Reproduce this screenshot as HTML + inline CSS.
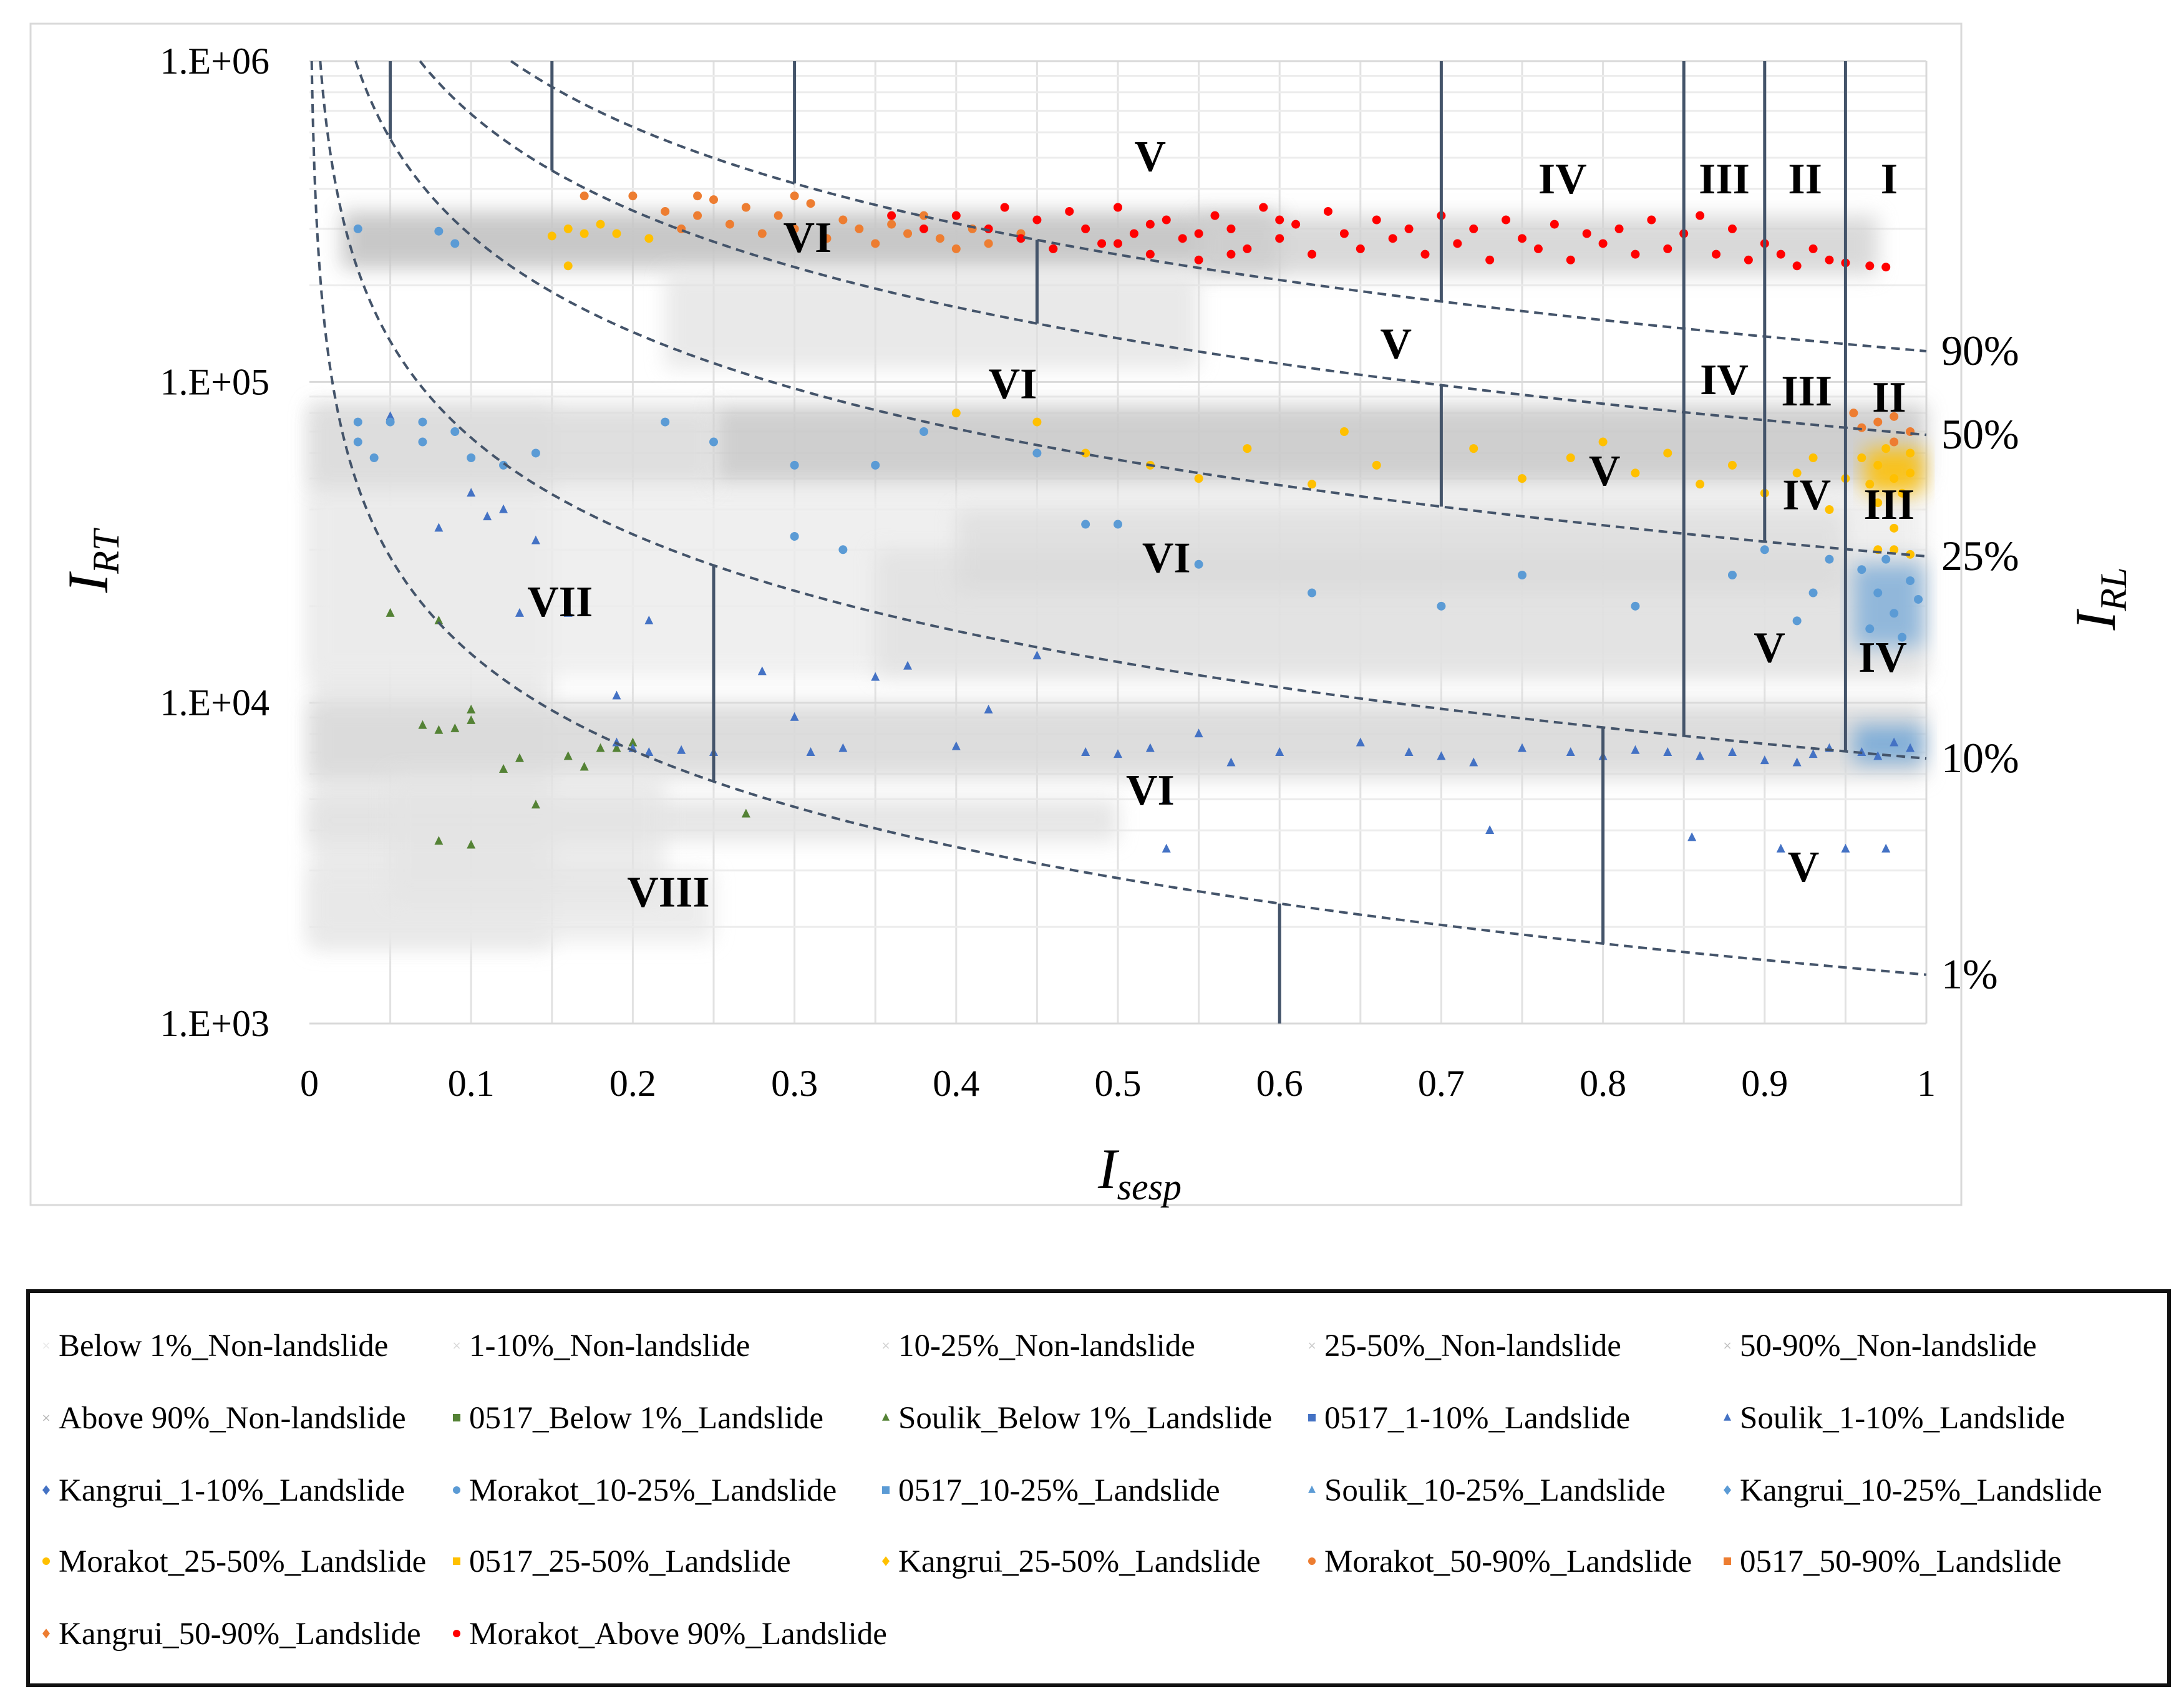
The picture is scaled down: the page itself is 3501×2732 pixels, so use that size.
<!DOCTYPE html>
<html><head><meta charset="utf-8">
<style>
html,body{margin:0;padding:0;background:#fff;}
svg{display:block;font-family:"Liberation Serif",serif;}
</style></head>
<body>
<svg id="chart" width="3501" height="2732" viewBox="0 0 3501 2732" xmlns="http://www.w3.org/2000/svg">
<defs>
<filter id="blur" x="-20%" y="-50%" width="140%" height="200%"><feGaussianBlur stdDeviation="16"/></filter>
</defs>
<rect x="49" y="38" width="3095" height="1894" fill="#fff" stroke="#d9d9d9" stroke-width="3"/>
<g id="grid"></g>
<g id="clouds"></g>
<g id="points"></g>
<g id="curves"></g>
<g id="vlines"></g>
<g id="zones"></g>
<g id="axes"></g>
<text transform="translate(172,900) rotate(-90)" font-size="92" font-style="italic" text-anchor="middle">I<tspan font-size="60" dy="18">RT</tspan></text>
<text x="1827" y="1905" font-size="92" font-style="italic" text-anchor="middle">I<tspan font-size="60" dy="18">sesp</tspan></text>
<text transform="translate(3390,960) rotate(-90)" font-size="92" font-style="italic" text-anchor="middle">I<tspan font-size="60" dy="18">RL</tspan></text>
<g id="legend">
<rect x="45" y="2070" width="3432" height="632" fill="#fff" stroke="#111" stroke-width="6"/>
</g>
</svg>
<script>
const NS="http://www.w3.org/2000/svg";
// ---- data ----
const xTicks=[0,0.1,0.2,0.3,0.4,0.5,0.6,0.7,0.8,0.9,1];
const xTickLabels=["0","0.1","0.2","0.3","0.4","0.5","0.6","0.7","0.8","0.9","1"];
const yTicks=[1e3,1e4,1e5,1e6];
const yTickLabels=["1.E+03","1.E+04","1.E+05","1.E+06"];
const curveNames=["1%","10%","25%","50%","90%"];
const curveK=[1420,6700,28600,68400,124700];
const vX=[0.05,0.15,0.3,0.45,0.7,0.7,0.85,0.9,0.95,0.25,0.8,0.6];
const vTop=[-1,-1,-1,4,-1,3,-1,-1,-1,1,1,0];
const vBot=[2,3,4,3,4,2,1,2,1,0,0,-1];
const zoneText=["V","IV","III","II","I","VI","V","VI","IV","III","II","V","IV","III","VI","VII","V","IV","VI","V","VIII"];
const zoneX=[0.52,0.775,0.875,0.925,0.977,0.308,0.672,0.435,0.875,0.926,0.977,0.801,0.926,0.977,0.53,0.155,0.903,0.973,0.52,0.924,0.222];
const zoneY=[506000,431000,431000,431000,431000,283000,132000,99000,102000,94000,90000,53000,44600,41600,28400,20700,14900,13900,5360,3090,2580];
const cloudX0=[0.0,0.0,0.02,0.55,0.22,0.0,0.25,0.0,0.35,0.0,0.0,0.05,0.4];
const cloudX1=[0.15,1.0,0.6,0.97,0.55,0.25,1.0,1.0,1.0,0.5,0.25,0.22,0.95];
const cloudY0=[1700,12000,225000,215000,110000,47000,48000,5800,12000,3700,1800,2400,22000];
const cloudY1=[85000,47000,340000,330000,220000,85000,85000,10000,30000,5000,3000,6000,40000];
const cloudFill=["#e8e8e8","#ececec","#c6c6c6","#d0d0d0","#e0e0e0","#dcdcdc","#cacaca","#dadada","#dcdcdc","#e2e2e2","#e8e8e8","#e4e4e4","#d8d8d8"];
const cloudOp=[0.9,0.8,0.95,0.8,0.7,0.9,0.9,0.9,0.6,0.85,0.8,0.7,0.6];
const redX=[0.40,0.42,0.43,0.44,0.45,0.46,0.47,0.48,0.49,0.50,0.51,0.52,0.53,0.54,0.55,0.56,0.57,0.58,0.59,0.60,0.61,0.62,0.63,0.64,0.65,0.66,0.67,0.68,0.69,0.70,0.71,0.72,0.73,0.74,0.75,0.76,0.77,0.78,0.79,0.80,0.81,0.82,0.83,0.84,0.85,0.86,0.87,0.88,0.89,0.90,0.91,0.92,0.93,0.94,0.95,0.965,0.975,0.36,0.38,0.52,0.55,0.60,0.50,0.57];
const redY=[330,300,350,280,320,260,340,300,270,350,290,250,320,280,240,330,300,260,350,280,310,250,340,290,260,320,280,300,250,330,270,300,240,320,280,260,310,240,290,270,300,250,320,260,290,330,250,300,240,270,250,230,260,240,235,230,228,330,300,310,290,320,270,250].map(v=>v*1000);
const orangeX=[0.17,0.20,0.22,0.23,0.24,0.25,0.26,0.27,0.28,0.29,0.30,0.31,0.32,0.33,0.34,0.35,0.36,0.37,0.38,0.39,0.40,0.41,0.42,0.44,0.46,0.24,0.30,0.96,0.97,0.98,0.99,0.98,0.955];
const orangeY=[380,380,340,300,330,370,310,350,290,330,300,360,280,320,300,270,310,290,330,280,260,300,270,290,260,380,380,72,75,78,70,65,80].map(v=>v*1000);
const yellowX=[0.15,0.16,0.17,0.18,0.19,0.21,0.16,0.40,0.45,0.48,0.52,0.55,0.58,0.62,0.64,0.66,0.72,0.75,0.78,0.80,0.82,0.84,0.86,0.88,0.90,0.92,0.93,0.94,0.95,0.96,0.97,0.98,0.99,0.985,0.975,0.99,0.965,0.98,0.97,0.97,0.98,0.99];
const yellowY=[285,300,290,310,290,280,230,80,75,60,55,50,62,48,70,55,62,50,58,65,52,60,48,55,45,52,58,40,50,58,55,50,60,45,62,52,48,35,42,30,30,29].map(v=>v*1000);
const ltBlueX=[0.03,0.08,0.09,0.03,0.05,0.07,0.09,0.03,0.07,0.04,0.10,0.12,0.14,0.22,0.25,0.30,0.35,0.38,0.45,0.30,0.33,0.48,0.50,0.55,0.62,0.70,0.75,0.82,0.88,0.90,0.92,0.93,0.94,0.96,0.97,0.98,0.99,0.965,0.985,0.975,0.995];
const ltBlueY=[300,295,270,75,75,75,70,65,65,58,58,55,60,75,65,55,55,70,60,33,30,36,36,27,22,20,25,20,25,30,18,22,28,26,22,19,24,17,16,28,21].map(v=>v*1000);
const dkBlueX=[0.19,0.20,0.21,0.23,0.25,0.28,0.30,0.31,0.33,0.35,0.37,0.40,0.42,0.45,0.48,0.50,0.52,0.53,0.55,0.57,0.60,0.65,0.68,0.70,0.72,0.75,0.78,0.80,0.82,0.84,0.86,0.88,0.90,0.92,0.93,0.94,0.96,0.97,0.98,0.99,0.855,0.91,0.95,0.975,0.73,0.53,0.10,0.12,0.11,0.08,0.14,0.19,0.13,0.21,0.16,0.05];
const dkBlueY=[7500,7200,7000,7100,7000,12500,9000,7000,7200,12000,13000,7300,9500,14000,7000,6900,7200,5000,8000,6500,7000,7500,7000,6800,6500,7200,7000,6800,7100,7000,6800,7000,6600,6500,6900,7200,7000,6800,7500,7200,3800,3500,3500,3500,4000,3500,45000,40000,38000,35000,32000,10500,19000,18000,19000,78000];
const greenX=[0.05,0.07,0.08,0.08,0.09,0.10,0.10,0.08,0.10,0.12,0.13,0.14,0.16,0.17,0.18,0.19,0.27,0.20];
const greenY=[19000,8500,18000,8200,8300,8800,9500,3700,3600,6200,6700,4800,6800,6300,7200,7200,4500,7500];
const blobX0=[0.962,0.955,0.955];
const blobX1=[0.998,0.998,0.998];
const blobY0=[45000,15000,6500];
const blobY1=[62000,27000,8500];
const blobFill=["#ffc000","#5b9bd5","#5b9bd5"];
const blobOp=[0.85,0.6,0.7];
const legendLabels=["Below 1%_Non-landslide","1-10%_Non-landslide","10-25%_Non-landslide","25-50%_Non-landslide","50-90%_Non-landslide","Above 90%_Non-landslide","0517_Below 1%_Landslide","Soulik_Below 1%_Landslide","0517_1-10%_Landslide","Soulik_1-10%_Landslide","Kangrui_1-10%_Landslide","Morakot_10-25%_Landslide","0517_10-25%_Landslide","Soulik_10-25%_Landslide","Kangrui_10-25%_Landslide","Morakot_25-50%_Landslide","0517_25-50%_Landslide","Kangrui_25-50%_Landslide","Morakot_50-90%_Landslide","0517_50-90%_Landslide","Kangrui_50-90%_Landslide","Morakot_Above 90%_Landslide"];
const legendColors=["#e8e8e8","#d8d8d8","#d0d0d0","#c8c8c8","#c0c0c0","#b8b8b8","#548235","#548235","#4472c4","#4472c4","#4472c4","#5b9bd5","#5b9bd5","#5b9bd5","#5b9bd5","#ffc000","#ffc000","#ffc000","#ed7d31","#ed7d31","#ed7d31","#ff0000"];
const legendShapes=["x","x","x","x","x","x","s","t","s","t","d","c","s","t","d","c","s","d","c","s","d","c"];

const L=496,R=3088,T=98,B=1641;
const xS=v=>L+v*(R-L);
const yS=v=>B-(Math.log10(v)-3)*(B-T)/3;
function el(tag,attrs,parent){const e=document.createElementNS(NS,tag);for(const k in attrs)e.setAttribute(k,attrs[k]);parent.appendChild(e);return e;}
const G=id=>document.getElementById(id);

for(let i=1;i<20;i++){const x=xS(i*0.05);
 const g=el("line",{x1:x,x2:x,y1:T,y2:B,stroke:"#e2e2e2","stroke-width":3},G("grid"));
 
 }
for(let d=3;d<6;d++)for(let m=1;m<10;m++){const y=yS(m*Math.pow(10,d));
 const g=el("line",{x1:L,x2:R,y1:y,y2:y,stroke:m===1?"#d9d9d9":"#ececec","stroke-width":3},G("grid"));
 
 }
{const g=el("line",{x1:L,x2:R,y1:T,y2:T,stroke:"#d9d9d9","stroke-width":3},G("grid"));
 
 }
{const g=el("line",{x1:R,x2:R,y1:T,y2:B,stroke:"#d9d9d9","stroke-width":3},G("grid"));
 
 }

for(let i=0;i<cloudX0.length;i++){
 const r=el("rect",{x:xS(cloudX0[i]),y:yS(cloudY1[i]),width:xS(cloudX1[i])-xS(cloudX0[i]),height:yS(cloudY0[i])-yS(cloudY1[i]),fill:cloudFill[i],opacity:cloudOp[i],filter:"url(#blur)"},G("clouds"));
 
 }

for(let i=0;i<blobX0.length;i++){
 const r=el("rect",{x:xS(blobX0[i]),y:yS(blobY1[i]),width:xS(blobX1[i])-xS(blobX0[i]),height:yS(blobY0[i])-yS(blobY1[i]),fill:blobFill[i],opacity:blobOp[i],filter:"url(#blur)"},G("points"));
 
 }

function marker(shape,cx,cy,r,color,parent){
 let e;
 if(shape==="c")e=el("circle",{cx:cx,cy:cy,r:r,fill:color},parent);
 else if(shape==="s")e=el("rect",{x:cx-r,y:cy-r,width:2*r,height:2*r,fill:color},parent);
 else if(shape==="t")e=el("polygon",{points:`${cx},${cy-r*1.2} ${cx+r},${cy+r*0.8} ${cx-r},${cy+r*0.8}`,fill:color},parent);
 else if(shape==="d")e=el("polygon",{points:`${cx},${cy-r*1.3} ${cx+r},${cy} ${cx},${cy+r*1.3} ${cx-r},${cy}`,fill:color},parent);
 else e=el("text",{x:cx,y:cy+r,"font-size":r*3,fill:color,"text-anchor":"middle","font-family":"DejaVu Sans, sans-serif"},parent),e.textContent="×";
 return e;}
function series(xs,ys,shape,color,name){
 for(let i=0;i<xs.length;i++){
  const m=marker(shape,xS(xs[i]),yS(ys[i]),7,color,G("points"));
  
  }}
series(greenX,greenY,"t","#548235","soulik-below-1-point");
series(dkBlueX,dkBlueY,"t","#4472c4","1-10-landslide-point");
series(ltBlueX,ltBlueY,"c","#5b9bd5","10-25-landslide-point");
series(yellowX,yellowY,"c","#ffc000","25-50-landslide-point");
series(orangeX,orangeY,"c","#ed7d31","50-90-landslide-point");
series(redX,redY,"c","#ff0000","morakot-above-90-point");

for(let c=0;c<curveK.length;c++){
 const x0=curveK[c]/1e6;let d="";
 for(let i=0;i<=300;i++){const x=x0+(1-x0)*Math.pow(i/300,2);const y=curveK[c]/x;d+=(i?"L":"M")+xS(x).toFixed(1)+","+yS(y).toFixed(1);}
 const p=el("path",{d:d,fill:"none",stroke:"#44546a","stroke-width":4,"stroke-dasharray":"14,9"},G("curves"));
 
 
 const t=el("text",{x:3112,y:yS(curveK[c])+22,"font-size":68},G("axes"));
 t.textContent=curveNames[c];
 
 }

for(let i=0;i<vX.length;i++){
 const y1=vTop[i]<0?T:yS(curveK[vTop[i]]/vX[i]);
 const y2=vBot[i]<0?B:yS(curveK[vBot[i]]/vX[i]);
 const l=el("line",{x1:xS(vX[i]),x2:xS(vX[i]),y1:y1,y2:y2,stroke:"#44546a","stroke-width":5},G("vlines"));
 
 }

for(let i=0;i<zoneText.length;i++){
 const t=el("text",{x:xS(zoneX[i]),y:yS(zoneY[i])+24,"font-size":70,"font-weight":"bold","text-anchor":"middle"},G("zones"));
 t.textContent=zoneText[i];
 
 }

for(let i=0;i<xTicks.length;i++){
 const t=el("text",{x:xS(xTicks[i]),y:1757,"font-size":60,"text-anchor":"middle"},G("axes"));
 t.textContent=xTickLabels[i];
 
 }
for(let i=0;i<yTicks.length;i++){
 const t=el("text",{x:432,y:yS(yTicks[i])+20,"font-size":60,"text-anchor":"end"},G("axes"));
 t.textContent=yTickLabels[i];
 
 }

const colX=[74,732,1420,2103,2769];
const rowY=[2157,2273,2389,2503,2619];
for(let i=0;i<legendLabels.length;i++){
 const cx=colX[i%5],cy=rowY[Math.floor(i/5)];
 const m=marker(legendShapes[i],cx,cy,6,legendColors[i],G("legend"));
 
 
 const t=el("text",{x:cx+20,y:cy+17,"font-size":51},G("legend"));
 t.textContent=legendLabels[i];
 
 }
</script>
</body></html>
